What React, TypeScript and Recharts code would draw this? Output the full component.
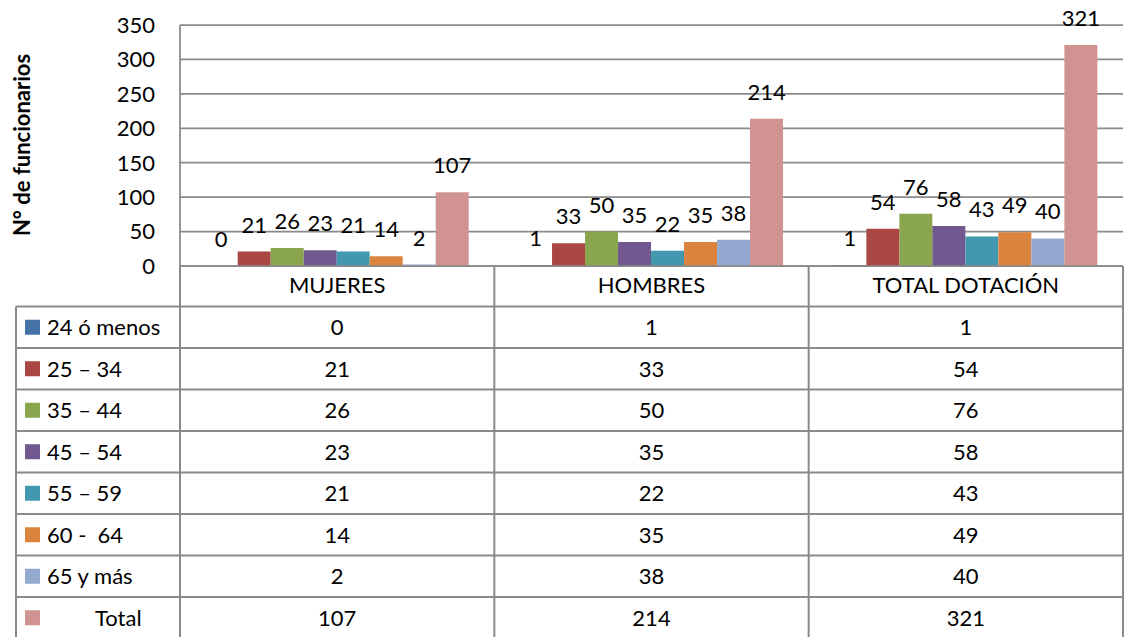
import { Bar, BarChart, CartesianGrid, LabelList, XAxis, YAxis } from "recharts";

const categories = ["MUJERES", "HOMBRES", "TOTAL DOTACIÓN"];
const seriesNames = ["24 ó menos", "25 – 34", "35 – 44", "45 – 54", "55 – 59", "60 -  64", "65 y más", "Total"];
const age24 = [0, 1, 1];
const age25 = [21, 33, 54];
const age35 = [26, 50, 76];
const age45 = [23, 35, 58];
const age55 = [21, 22, 43];
const age60 = [14, 35, 49];
const age65 = [2, 38, 40];
const totals = [107, 214, 321];
const yTicks = [0, 50, 100, 150, 200, 250, 300, 350];

const seriesValues = [age24, age25, age35, age45, age55, age60, age65, totals];
const colors = ["#4572A7", "#AA4643", "#89A54E", "#71588F", "#4198AF", "#DB843D", "#93A9CF", "#D19392"];
const keys = seriesNames.map((_, i) => `s${i}`);

const data = categories.map((category, c) => {
  const row: Record<string, string | number> = { category };
  seriesValues.forEach((vals, i) => {
    row[keys[i]] = vals[c];
  });
  return row;
});

const W = 1124;
const H = 637;
const PLOT_LEFT = 180;
const PLOT_RIGHT = 1123;
const PLOT_TOP = 25;
const PLOT_BOTTOM = 266;
const HEADER_BOTTOM = 306.5;
const ROW_H = 41.5;
const TABLE_LEFT = 16;
const FONT = "Lato, 'Open Sans', sans-serif";
const LINE = "#8a8a8a";

function DataTable() {
  const colW = (PLOT_RIGHT - PLOT_LEFT) / categories.length;
  const rowsBottom = HEADER_BOTTOM + ROW_H * seriesNames.length;
  return (
    <svg
      width={W}
      height={H}
      style={{ position: "absolute", left: 0, top: 0, pointerEvents: "none" }}
    >
      <text
        transform="translate(30,145) rotate(-90)"
        textAnchor="middle"
        fontFamily={FONT}
        fontWeight="bold"
        fontSize={22}
        fill="#000"
      >
        N° de funcionarios
      </text>
      {/* table grid */}
      <line x1={TABLE_LEFT} x2={TABLE_LEFT} y1={HEADER_BOTTOM} y2={rowsBottom} stroke={LINE} strokeWidth={2} />
      {categories.map((_, c) => (
        <line
          key={c}
          x1={PLOT_LEFT + colW * (c + 1)}
          x2={PLOT_LEFT + colW * (c + 1)}
          y1={PLOT_BOTTOM}
          y2={rowsBottom}
          stroke={LINE}
          strokeWidth={2}
        />
      ))}
      <line x1={PLOT_LEFT} x2={PLOT_LEFT} y1={PLOT_BOTTOM} y2={rowsBottom} stroke={LINE} strokeWidth={2} />
      {seriesNames.map((_, i) => (
        <line
          key={i}
          x1={TABLE_LEFT}
          x2={PLOT_RIGHT}
          y1={HEADER_BOTTOM + ROW_H * i}
          y2={HEADER_BOTTOM + ROW_H * i}
          stroke={LINE}
          strokeWidth={2}
        />
      ))}
      <line x1={TABLE_LEFT} x2={PLOT_RIGHT} y1={rowsBottom} y2={rowsBottom} stroke={LINE} strokeWidth={2} />
      {seriesNames.map((name, i) => {
        const cy = HEADER_BOTTOM + ROW_H * i + ROW_H / 2;
        return (
          <g key={name}>
            <rect x={25} y={cy - 7.5} width={15} height={15} fill={colors[i]} />
            <text
              x={name === "Total" ? 95 : 47}
              y={cy + 8}
              fontFamily={FONT}
              fontSize={22}
              fill="#000"
              style={{ whiteSpace: "pre" }}
            >
              {name}
            </text>
            {seriesValues[i].map((v, c) => (
              <text
                key={c}
                x={PLOT_LEFT + colW * (c + 0.5)}
                y={cy + 8}
                textAnchor="middle"
                fontFamily={FONT}
                fontSize={22}
                fill="#000"
              >
                {v}
              </text>
            ))}
          </g>
        );
      })}
    </svg>
  );
}

export default function App() {
  return (
    <div style={{ position: "relative", width: W, height: H, background: "#fff" }}>
      <style>{"body{margin:0}"}</style>
      <BarChart
        width={W}
        height={H}
        data={data}
        margin={{ top: PLOT_TOP, right: W - PLOT_RIGHT, left: 0, bottom: H - PLOT_BOTTOM - 40 }}
        barGap={0}
        barCategoryGap="7.86%"
      >
        <CartesianGrid vertical={false} stroke={LINE} strokeWidth={1.75} />
        <XAxis
          dataKey="category"
          height={40}
          tickLine={false}
          tickSize={0}
          tickMargin={11}
          axisLine={{ stroke: LINE, strokeWidth: 1.75 }}
          tick={{ fill: "#000", fontSize: 22, fontFamily: FONT }}
          interval={0}
        />
        <YAxis
          width={PLOT_LEFT}
          domain={[0, 350]}
          ticks={yTicks}
          tickLine={false}
          tickSize={0}
          tickMargin={25}
          axisLine={{ stroke: LINE, strokeWidth: 1.75 }}
          tick={{ fill: "#000", fontSize: 22, fontFamily: FONT }}
        />
        {keys.map((k, i) => (
          <Bar
            key={k}
            dataKey={k}
            name={seriesNames[i]}
            fill={colors[i]}
            minPointSize={0.1}
            isAnimationActive={false}
          >
            <LabelList dataKey={k} position="top" offset={19} fill="#000" fontSize={22} fontFamily={FONT} />
          </Bar>
        ))}
      </BarChart>
      <DataTable />
    </div>
  );
}
